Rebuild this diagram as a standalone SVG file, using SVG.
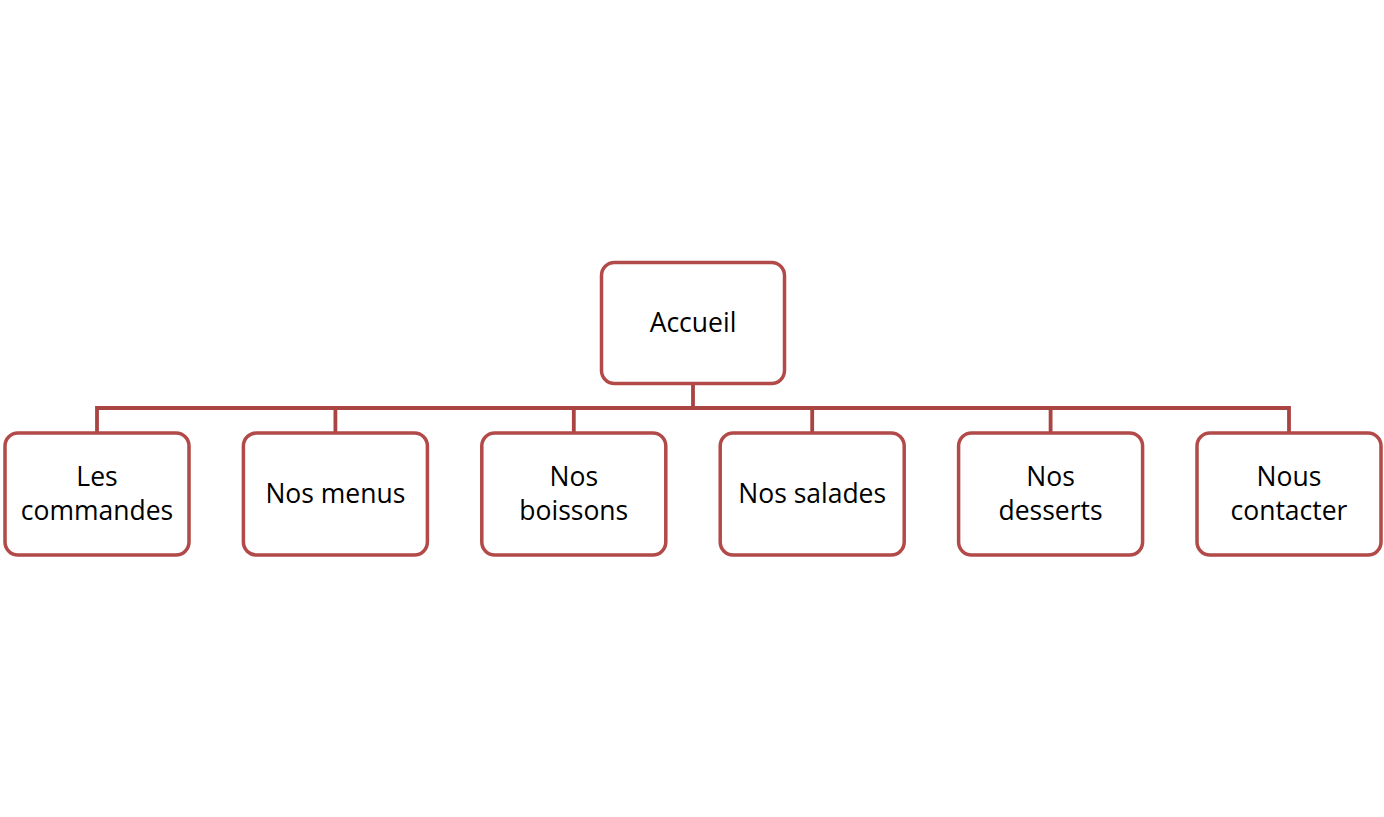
<svg xmlns="http://www.w3.org/2000/svg" width="1384" height="817" viewBox="0 0 1384 817">
<style>
.box{fill:#ffffff;stroke:#B14A48;stroke-width:3.5}
.con{fill:none;stroke:#A94442;stroke-width:3.8}
.t{font-family:"Open Sans","Liberation Sans",sans-serif;font-size:26.5px;fill:#000;text-anchor:middle}
</style>
<rect width="1384" height="817" fill="#ffffff"/>
<g id="connectors">
<path class="con" d="M693 384 V408 M97 433 V408 H1289 V433 M335.4 408 V433 M573.8 408 V433 M812.2 408 V433 M1050.6 408 V433"/>
</g>
<g id="accueil"><rect class="box" x="601.5" y="262.5" width="183" height="121" rx="13"/><text class="t" x="693" y="332">Accueil</text></g>
<g id="commandes"><rect class="box" x="5" y="433" width="184" height="122" rx="13"/><text class="t" x="97" y="486">Les</text><text class="t" x="97" y="520">commandes</text></g>
<g id="menus"><rect class="box" x="243.4" y="433" width="184" height="122" rx="13"/><text class="t" x="335.4" y="503">Nos menus</text></g>
<g id="boissons"><rect class="box" x="481.8" y="433" width="184" height="122" rx="13"/><text class="t" x="573.8" y="486">Nos</text><text class="t" x="573.8" y="520">boissons</text></g>
<g id="salades"><rect class="box" x="720.2" y="433" width="184" height="122" rx="13"/><text class="t" x="812.2" y="503">Nos salades</text></g>
<g id="desserts"><rect class="box" x="958.6" y="433" width="184" height="122" rx="13"/><text class="t" x="1050.6" y="486">Nos</text><text class="t" x="1050.6" y="520">desserts</text></g>
<g id="contacter"><rect class="box" x="1197" y="433" width="184" height="122" rx="13"/><text class="t" x="1289" y="486">Nous</text><text class="t" x="1289" y="520">contacter</text></g>
</svg>
